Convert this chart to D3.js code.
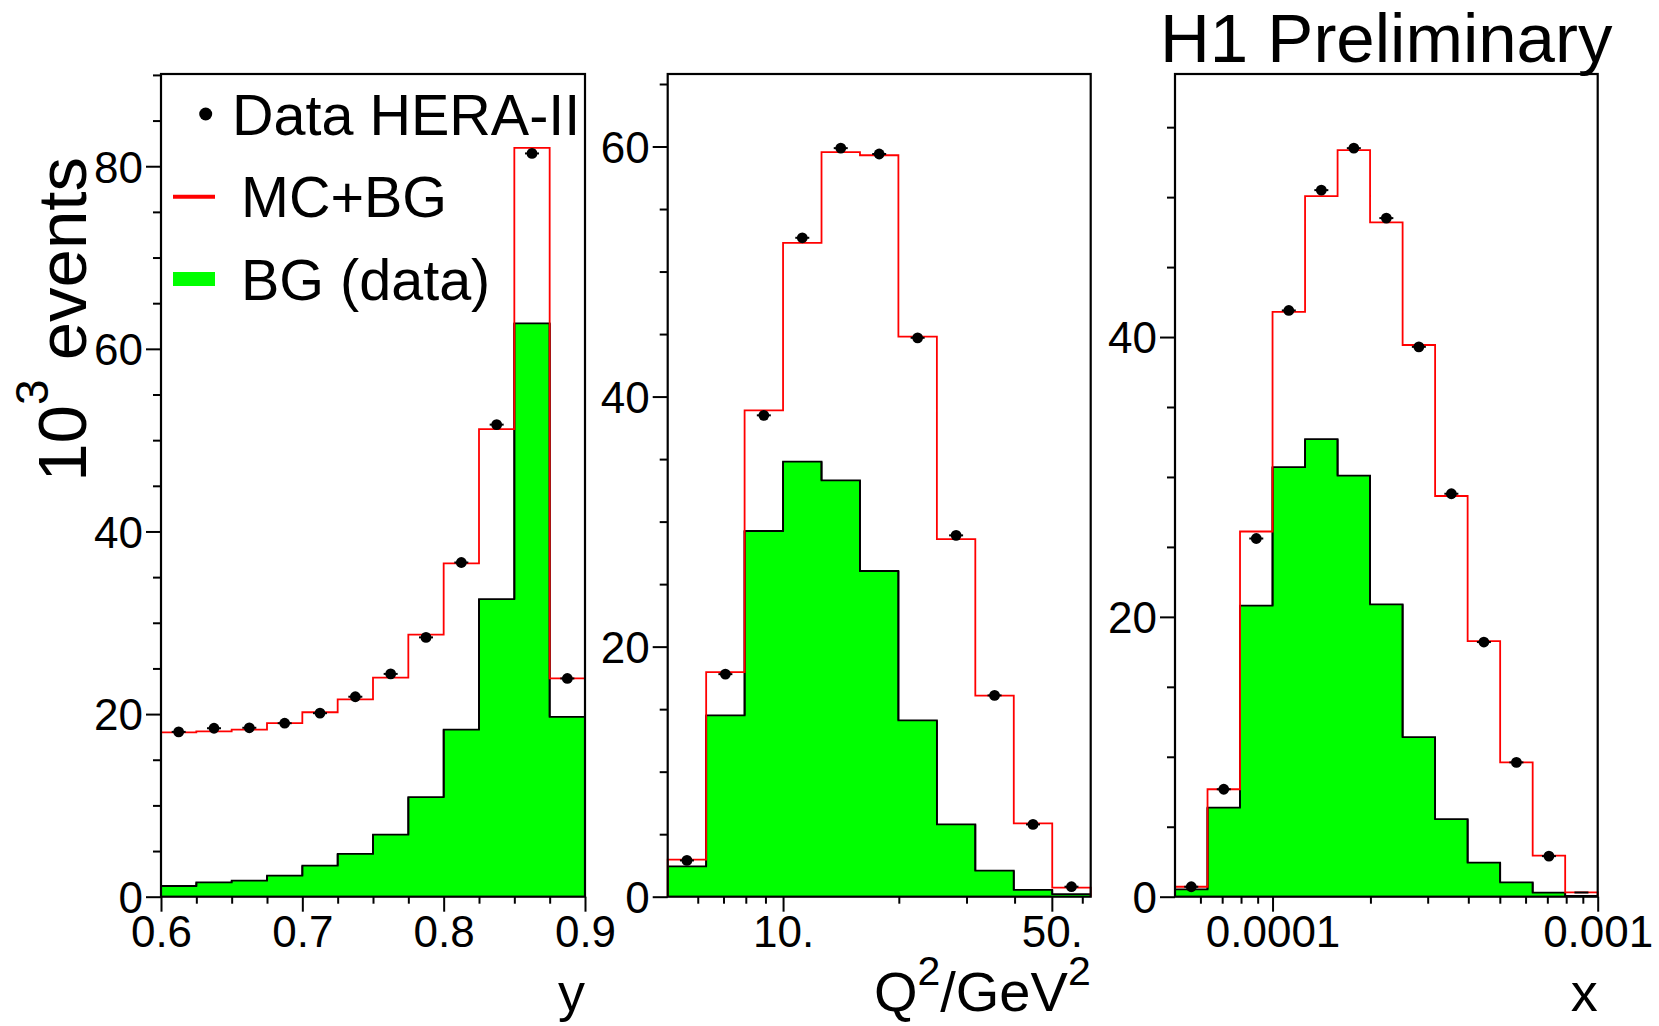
<!DOCTYPE html>
<html>
<head>
<meta charset="utf-8">
<script src="https://cdn.jsdelivr.net/npm/d3@7"></script>
<style>
  body { margin: 0; background: #fff; }
  svg { display: block; }
  text { font-family: "Liberation Sans", Arial, Helvetica, sans-serif; fill: #000; }
</style>
</head>
<body>
<div class="container"></div>
<script>
// bins and contents (10^3 events)
const yEdges = [0.6, 0.625, 0.65, 0.675, 0.7, 0.725, 0.75, 0.775, 0.8, 0.825, 0.85, 0.875, 0.9]
const yMcBg = [18.0, 18.1, 18.3, 19.0, 20.2, 21.6, 24.0, 28.7, 36.5, 51.2, 82.0, 23.9]
const yData = [18.05, 18.45, 18.5, 19.0, 20.1, 21.9, 24.4, 28.4, 36.6, 51.7, 81.4, 23.9]
const yBg = [1.17, 1.57, 1.75, 2.3, 3.4, 4.68, 6.8, 10.9, 18.3, 32.6, 62.8, 19.7]

const q2Edges = [5.012, 6.310, 7.943, 10.0, 12.59, 15.85, 19.95, 25.12, 31.62, 39.81, 50.12, 63.10]
const q2McBg = [2.96, 17.96, 38.9, 52.3, 59.55, 59.3, 44.8, 28.6, 16.08, 5.86, 0.72]
const q2Data = [2.9, 17.8, 38.5, 52.7, 59.87, 59.4, 44.7, 28.9, 16.1, 5.78, 0.8]
const q2Bg = [2.42, 14.5, 29.25, 34.8, 33.3, 26.05, 14.1, 5.78, 2.08, 0.54, 0.2]

const xEdges = [5.012e-5, 6.310e-5, 7.943e-5, 1.0e-4, 1.259e-4, 1.585e-4, 1.995e-4, 2.512e-4, 3.162e-4, 3.981e-4, 5.012e-4, 6.310e-4, 7.943e-4, 1.0e-3]
const xMcBg = [0.71, 7.68, 26.1, 41.8, 50.07, 53.36, 48.2, 39.43, 28.64, 18.26, 9.6, 2.93, 0.31]
const xData = [0.71, 7.68, 25.6, 41.9, 50.5, 53.5, 48.5, 39.3, 28.8, 18.2, 9.6, 2.9, 0.3]
const xBg = [0.53, 6.37, 20.8, 30.7, 32.7, 30.1, 20.9, 11.4, 5.54, 2.43, 1.03, 0.29, 0.05]

// axis ticks
const yMajor = [0.6, 0.7, 0.8, 0.9]
const yMinor = [0.625, 0.65, 0.675, 0.725, 0.75, 0.775, 0.825, 0.85, 0.875]
const q2Major = [10, 50]
const q2Minor = [6, 7, 8, 9, 20, 30, 40, 60]
const xMajor = [1e-4, 1e-3]
const xMinor = [6e-5, 7e-5, 8e-5, 9e-5, 2e-4, 3e-4, 4e-4, 5e-4, 6e-4, 7e-4, 8e-4, 9e-4]
const yTitles = ["y", "Q2/GeV2", "x"]
const legendLabels = ["Data HERA-II", "MC+BG", "BG (data)"]

const W = 1659, H = 1026
const frameTop = 74, frameBottom = 896.7

const svg = d3.select(".container")
              .append("svg")
              .attr("width", W)
              .attr("height", H)

const panels = [
    {left: 161, right: 585, edges: yEdges, mc: yMcBg, bg: yBg, data: yData, log: false,
     ymax: 90.1, major: yMajor, minor: yMinor, fmt: d3.format(".1f"), yMaxTick: 80},
    {left: 667.7, right: 1090.7, edges: q2Edges, mc: q2McBg, bg: q2Bg, data: q2Data, log: true,
     ymax: 65.8, major: q2Major, minor: q2Minor, fmt: (d)=> d + ".", yMaxTick: 60},
    {left: 1175, right: 1597.7, edges: xEdges, mc: xMcBg, bg: xBg, data: xData, log: true,
     ymax: 58.8, major: xMajor, minor: xMinor, fmt: (d)=> d === 1e-4 ? "0.0001" : "0.001", yMaxTick: 40}
]

const stepPoints = (edges, vals, x, y)=>{
    let pts = [[x(edges[0]), y(0)]]
    vals.forEach((v, i)=>{
        pts.push([x(edges[i]), y(v)])
        pts.push([x(edges[i+1]), y(v)])
    })
    pts.push([x(edges[edges.length-1]), y(0)])
    return pts
}

panels.forEach((p, k)=>{
    const x = (p.log ? d3.scaleLog() : d3.scaleLinear())
                .domain([p.edges[0], p.edges[p.edges.length-1]])
                .range([p.left, p.right])
    const y = d3.scaleLinear().domain([0, p.ymax]).range([frameBottom, frameTop])
    const line = d3.line()

    const g = svg.append("g")

    // BG histogram (green fill, black outline)
    const bgPts = stepPoints(p.edges, p.bg, x, y)
    g.append("path")
     .attr("d", line(bgPts) + "Z")
     .attr("fill", "#00ff00")
     .attr("stroke", "none")
    g.append("path")
     .attr("d", line(bgPts.slice(1, -1)))
     .attr("fill", "none")
     .attr("stroke", "#000")
     .attr("stroke-width", 1.8)
    // inner bin borders of the green histogram
    p.bg.forEach((v, i)=>{
        if(i == 0) return
        g.append("line")
         .attr("x1", x(p.edges[i])).attr("x2", x(p.edges[i]))
         .attr("y1", y(Math.min(v, p.bg[i-1]))).attr("y2", y(Math.max(v, p.bg[i-1])))
         .attr("stroke", "#000").attr("stroke-width", 1.8)
    })

    // MC+BG red step line
    g.append("path")
     .attr("d", line(stepPoints(p.edges, p.mc, x, y)))
     .attr("fill", "none")
     .attr("stroke", "#ff0000")
     .attr("stroke-width", 1.8)

    // y axis: major and minor ticks
    const yMajorTicks = d3.range(0, p.yMaxTick + 1, 20)
    const yMinorTicks = d3.range(5, p.ymax, 5).filter((d)=> d % 20 != 0)
    g.append("g")
     .attr("transform", "translate(" + p.left + ",0)")
     .call(d3.axisLeft(y).tickValues(yMajorTicks).tickSize(15).tickPadding(3).tickFormat(d3.format("d")))
     .call((a)=>{
        a.select(".domain").remove()
        a.selectAll("line").attr("stroke-width", 2)
        a.selectAll("text").style("font-size", "44px").attr("dy", "0.36em")
     })
    g.append("g")
     .attr("transform", "translate(" + p.left + ",0)")
     .call(d3.axisLeft(y).tickValues(yMinorTicks).tickSize(8).tickFormat(""))
     .call((a)=>{
        a.select(".domain").remove()
        a.selectAll("line").attr("stroke-width", 2)
     })

    // x axis
    g.append("g")
     .attr("transform", "translate(0," + frameBottom + ")")
     .call(d3.axisBottom(x).tickValues(p.major).tickSize(15).tickPadding(4).tickFormat(p.fmt))
     .call((a)=>{
        a.select(".domain").remove()
        a.selectAll("line").attr("stroke-width", 2)
        a.selectAll("text").style("font-size", "44px")
     })
    g.append("g")
     .attr("transform", "translate(0," + frameBottom + ")")
     .call(d3.axisBottom(x).tickValues(p.minor).tickSize(7).tickFormat(""))
     .call((a)=>{
        a.select(".domain").remove()
        a.selectAll("line").attr("stroke-width", 2)
     })

    // frame
    g.append("rect")
     .attr("x", p.left).attr("y", frameTop)
     .attr("width", p.right - p.left).attr("height", frameBottom - frameTop)
     .attr("fill", "none").attr("stroke", "#000").attr("stroke-width", 2.2)

    // data points
    const centers = p.data.map((v, i)=> p.log
        ? Math.sqrt(p.edges[i] * p.edges[i+1])
        : (p.edges[i] + p.edges[i+1]) / 2)
    const pts = g.selectAll(".pt")
                 .data(p.data)
                 .enter()
                 .append("g")
                 .attr("class", "pt")
                 .attr("transform", (v, i)=> "translate(" + x(centers[i]) + "," + y(v) + ")")
    pts.append("line")
       .attr("x1", -7).attr("x2", 7)
       .attr("stroke", "#000").attr("stroke-width", 2)
    pts.filter((v)=> v >= 0.5)
       .append("circle")
       .attr("r", 5.4)
       .attr("fill", "#000")

    // x title
    const t = svg.append("text")
                 .attr("x", p.right)
                 .attr("y", 1011)
                 .attr("text-anchor", "end")
                 .style("font-size", "54px")
    if(k == 1){
        t.style("font-size", "56px")
        t.append("tspan").text("Q")
        t.append("tspan").text("2").attr("dy", -26).style("font-size", "41px")
        t.append("tspan").text("/GeV").attr("dy", 26)
        t.append("tspan").text("2").attr("dy", -26).style("font-size", "41px")
    }else{
        t.text(yTitles[k])
    }
})

// y title
const yt = svg.append("text")
              .attr("transform", "translate(86,157) rotate(-90)")
              .attr("text-anchor", "end")
              .style("font-size", "69px")
yt.append("tspan").text("10")
yt.append("tspan").text("3").attr("dy", -38).style("font-size", "46px")
yt.append("tspan").text(" events").attr("dy", 38)

// H1 Preliminary
svg.append("text")
   .attr("x", 1160)
   .attr("y", 62)
   .style("font-size", "69px")
   .text("H1 Preliminary")

// legend
const leg = svg.append("g")
leg.append("circle").attr("cx", 205.7).attr("cy", 114).attr("r", 6.5).attr("fill", "#000")
leg.append("line").attr("x1", 173).attr("x2", 215).attr("y1", 196.7).attr("y2", 196.7)
   .attr("stroke", "#ff0000").attr("stroke-width", 4)
leg.append("rect").attr("x", 173).attr("y", 272).attr("width", 42).attr("height", 14)
   .attr("fill", "#00ff00")
leg.selectAll("text.leg")
   .data(legendLabels)
   .enter()
   .append("text")
   .attr("class", "leg")
   .attr("x", (d, i)=> i == 0 ? 232 : 241)
   .attr("y", (d, i)=> [135, 216.7, 300][i])
   .style("font-size", "57.5px")
   .text((d)=> d)
</script>
</body>
</html>
